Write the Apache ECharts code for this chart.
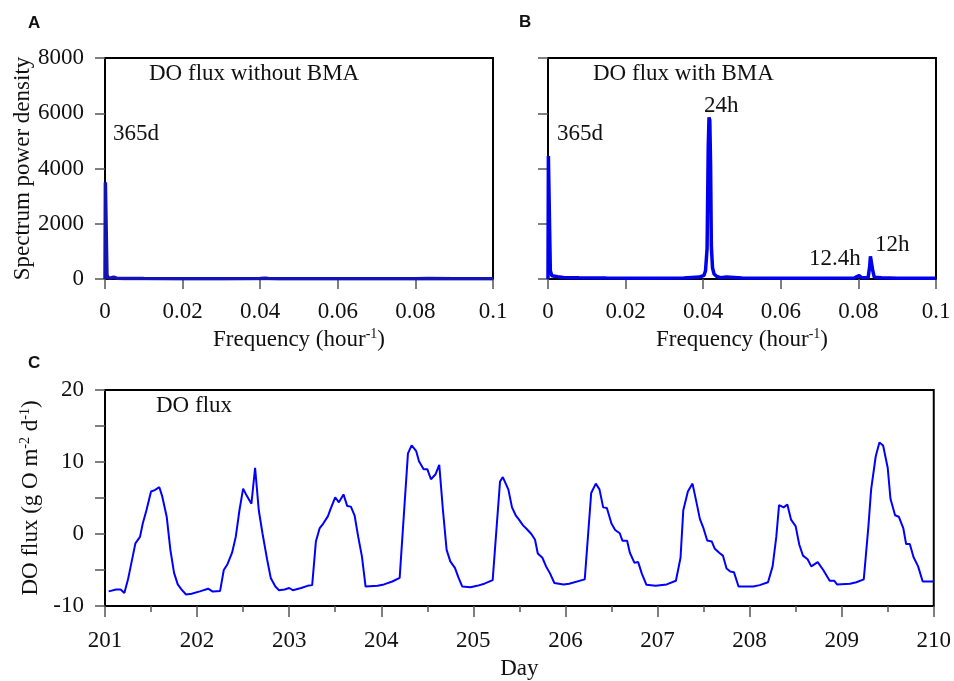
<!DOCTYPE html>
<html>
<head>
<meta charset="utf-8">
<script src="https://cdn.jsdelivr.net/npm/echarts@6/dist/echarts.min.js"></script>
<style>html,body{margin:0;padding:0;background:#fff}#c{width:954px;height:681px}</style>
</head>
<body>
<div id="c"></div>
<script>
// Panel A: spectrum without BMA  [frequency (1/hour), power]
const specA_freq  = [0, 0.0001, 0.0003, 0.0005, 0.0008, 0.0015, 0.0022, 0.003, 0.005, 0.01, 0.02, 0.03, 0.04, 0.0413, 0.0417, 0.0421, 0.045, 0.06, 0.08, 0.0833, 0.09, 0.1];
const specA_power = [0, 3500, 3500, 150, 45, 40, 65, 30, 22, 15, 12, 10, 14, 30, 55, 20, 10, 8, 8, 14, 6, 5];

// Panel B: spectrum with BMA
const specB_freq  = [0, 0.0001, 0.0003, 0.0006, 0.001, 0.0018, 0.0025, 0.004, 0.008, 0.015, 0.025, 0.035, 0.039, 0.0402, 0.0406, 0.041, 0.0413, 0.0415, 0.0417, 0.0419, 0.0421, 0.0424, 0.0428, 0.0435, 0.0445, 0.046, 0.05, 0.06, 0.07, 0.079, 0.0802, 0.0805, 0.0808, 0.0825, 0.0829, 0.0831, 0.0834, 0.0837, 0.0841, 0.086, 0.09, 0.1];
const specB_power = [0, 4450, 4450, 300, 120, 100, 80, 55, 45, 35, 30, 35, 70, 130, 300, 1100, 4800, 5850, 5750, 4200, 1200, 400, 180, 90, 50, 70, 35, 30, 30, 40, 120, 140, 50, 45, 450, 820, 780, 300, 60, 45, 30, 25];

// Panel C: DO flux time series
const dayC  = [201.04,201.12,201.17,201.21,201.25,201.29,201.33,201.38,201.41,201.45,201.50,201.54,201.59,201.62,201.67,201.71,201.75,201.79,201.83,201.88,201.94,202.03,202.12,202.13,202.17,202.25,202.29,202.33,202.38,202.42,202.46,202.50,202.54,202.59,202.63,202.67,202.71,202.76,202.80,202.85,202.89,202.95,203.00,203.04,203.13,203.20,203.25,203.29,203.33,203.37,203.42,203.45,203.50,203.54,203.59,203.63,203.67,203.71,203.75,203.79,203.83,203.96,204.03,204.12,204.20,204.29,204.33,204.38,204.41,204.46,204.50,204.54,204.59,204.63,204.67,204.71,204.75,204.80,204.84,204.88,204.97,205.04,205.12,205.21,205.29,205.32,205.38,205.42,205.46,205.49,205.54,205.58,205.63,205.67,205.70,205.75,205.79,205.83,205.88,205.98,206.04,206.21,206.28,206.33,206.37,206.41,206.45,206.50,206.54,206.59,206.62,206.67,206.70,206.75,206.79,206.83,206.88,206.98,207.10,207.20,207.25,207.28,207.33,207.38,207.42,207.46,207.50,207.54,207.59,207.62,207.67,207.71,207.75,207.79,207.83,207.88,208.04,208.11,208.20,208.25,208.29,208.32,208.37,208.41,208.45,208.50,208.54,208.58,208.63,208.67,208.74,208.80,208.87,208.92,208.95,209.09,209.16,209.24,209.29,209.32,209.37,209.41,209.45,209.50,209.53,209.58,209.62,209.67,209.70,209.74,209.78,209.83,209.88,210.00];
const fluxC = [-7.97,-7.7,-7.7,-8.2,-6.3,-3.8,-1.3,-0.4,1.45,3.3,5.9,6.1,6.5,5.3,2.4,-2.2,-5.4,-7.0,-7.7,-8.4,-8.3,-7.97,-7.6,-7.55,-8.0,-7.9,-5.0,-4.2,-2.6,-0.4,3.3,6.3,5.3,4.2,9.2,3.3,0.1,-3.5,-6.1,-7.3,-7.8,-7.7,-7.5,-7.8,-7.5,-7.2,-7.1,-1.05,0.77,1.45,2.45,3.5,5.1,4.4,5.5,3.9,3.8,2.6,-0.4,-3.1,-7.3,-7.2,-7.0,-6.6,-6.1,11.2,12.3,11.5,10.1,9.0,9.0,7.6,8.3,9.6,3.3,-2.2,-3.8,-4.7,-6.1,-7.3,-7.4,-7.2,-6.9,-6.4,7.3,7.9,6.2,3.7,2.6,2.1,1.2,0.7,0.0,-0.8,-2.7,-3.3,-4.5,-5.4,-6.8,-7.0,-6.9,-6.3,5.7,7.0,6.2,3.7,3.6,1.45,0.55,0.1,-0.95,-0.95,-2.6,-4.0,-3.9,-5.5,-7.05,-7.2,-7.0,-6.5,-3.3,3.3,5.9,7.0,4.6,2.1,0.77,-0.9,-1.05,-2.0,-2.6,-3.0,-4.8,-5.2,-5.3,-7.3,-7.3,-7.1,-6.7,-4.5,-0.4,4.0,3.7,4.1,2.0,1.1,-1.5,-3.0,-3.5,-4.5,-3.9,-5.0,-6.5,-6.5,-7.0,-6.9,-6.7,-6.3,1.0,6.2,10.8,12.7,12.3,9.2,4.9,2.6,2.4,0.77,-1.4,-1.4,-3.2,-4.5,-6.6,-6.6];

// Axis ticks
const specYTicks = [0, 2000, 4000, 6000, 8000];
const specXTicks = [0, 0.02, 0.04, 0.06, 0.08, 0.1];
const fluxYTicks = [-10, 0, 10, 20];
const dayTicks = [201, 202, 203, 204, 205, 206, 207, 208, 209, 210];

const SERIF = 'Liberation Serif';
const FS = 23;
const zip = (a, b) => a.map((v, i) => [v, b[i]]);
const plain = v => String(v);

const tickStyle = {show: true, inside: false, length: 10, lineStyle: {color: '#555', width: 1.5}};
const lbl = {color: '#111', fontFamily: SERIF, fontSize: FS, formatter: plain};

const nameRich = {
  a: {fontFamily: SERIF, fontSize: FS, color: '#111', lineHeight: 26},
  s: {fontFamily: SERIF, fontSize: 14, color: '#111', verticalAlign: 'top', lineHeight: 26, padding: [0, 0, 10, 0]}
};

const gridStyle = {show: true, borderColor: '#000', borderWidth: 2, backgroundColor: 'transparent', containLabel: false};
const noLine = {show: false, onZero: false};
const letterFont = 'bold 17px "Liberation Sans"';

const option = {
  animation: false,
  grid: [
    Object.assign({left: 105, top: 58, width: 388, height: 221}, gridStyle),
    Object.assign({left: 548, top: 58, width: 388, height: 221}, gridStyle),
    Object.assign({left: 105, top: 390, width: 831, height: 221}, gridStyle)
  ],
  xAxis: [
    {gridIndex: 0, type: 'value', min: specXTicks[0], max: specXTicks[specXTicks.length - 1], interval: 0.02,
     axisLine: noLine, axisTick: tickStyle, splitLine: {show: false},
     axisLabel: Object.assign({}, lbl, {margin: 21}),
     name: '{a|Frequency (hour}{s|-1}{a|)}', nameLocation: 'middle', nameGap: 48, nameTextStyle: {rich: nameRich}},
    {gridIndex: 1, type: 'value', min: specXTicks[0], max: specXTicks[specXTicks.length - 1], interval: 0.02,
     axisLine: noLine, axisTick: tickStyle, splitLine: {show: false},
     axisLabel: Object.assign({}, lbl, {margin: 21}),
     name: '{a|Frequency (hour}{s|-1}{a|)}', nameLocation: 'middle', nameGap: 48, nameTextStyle: {rich: nameRich}},
    {gridIndex: 2, type: 'value', min: dayTicks[0], max: dayTicks[dayTicks.length - 1], interval: 1,
     axisLine: noLine, axisTick: Object.assign({}, tickStyle, {length: 11}), splitLine: {show: false},
     minorTick: {show: true, splitNumber: 2, length: 6, lineStyle: {color: '#555', width: 1.5}},
     axisLabel: Object.assign({}, lbl, {margin: 23}),
     name: 'Day', nameLocation: 'middle', nameGap: 51, nameTextStyle: {fontFamily: SERIF, fontSize: FS, color: '#111'}}
  ],
  yAxis: [
    {gridIndex: 0, type: 'value', min: specYTicks[0], max: specYTicks[specYTicks.length - 1], interval: 2000,
     axisLine: noLine, axisTick: tickStyle, splitLine: {show: false},
     axisLabel: Object.assign({}, lbl, {margin: 21}),
     name: 'Spectrum power density', nameLocation: 'middle', nameGap: 69,
     nameTextStyle: {fontFamily: SERIF, fontSize: FS, color: '#111'}},
    {gridIndex: 1, type: 'value', min: specYTicks[0], max: specYTicks[specYTicks.length - 1], interval: 2000,
     axisLine: noLine, axisTick: tickStyle, splitLine: {show: false},
     axisLabel: {show: false}},
    {gridIndex: 2, type: 'value', min: fluxYTicks[0], max: fluxYTicks[fluxYTicks.length - 1], interval: 10,
     axisLine: noLine, axisTick: tickStyle, splitLine: {show: false},
     minorTick: {show: true, splitNumber: 2, length: 10, lineStyle: {color: '#555', width: 1.5}},
     axisLabel: Object.assign({}, lbl, {margin: 21}),
     name: '{a|DO flux (g O m}{s|-2}{a| d}{s|-1}{a|)}', nameLocation: 'middle', nameGap: 54,
     nameTextStyle: {rich: nameRich}}
  ],
  series: [
    {type: 'line', xAxisIndex: 0, yAxisIndex: 0, data: zip(specA_freq, specA_power), showSymbol: false,
     lineStyle: {color: '#1414b4', width: 3.5}, itemStyle: {color: '#1414b4'}},
    {type: 'line', xAxisIndex: 1, yAxisIndex: 1, data: zip(specB_freq, specB_power), showSymbol: false,
     lineStyle: {color: '#0000f0', width: 3.5}, itemStyle: {color: '#0000f0'}},
    {type: 'line', xAxisIndex: 2, yAxisIndex: 2, data: zip(dayC, fluxC), showSymbol: false,
     lineStyle: {color: '#0000ff', width: 2}, itemStyle: {color: '#0000ff'}}
  ],
  graphic: [
    {type: 'text', style: {text: 'A', x: 28, y: 23, verticalAlign: 'middle', font: letterFont, fill: '#111'}},
    {type: 'text', style: {text: 'B', x: 519, y: 22, verticalAlign: 'middle', font: letterFont, fill: '#111'}},
    {type: 'text', style: {text: 'C', x: 28, y: 363, verticalAlign: 'middle', font: letterFont, fill: '#111'}},
    {type: 'text', style: {text: 'DO flux without BMA', x: 149, y: 74, verticalAlign: 'middle', fontFamily: SERIF, fontSize: FS, fill: '#111'}},
    {type: 'text', style: {text: 'DO flux with BMA', x: 593, y: 74, verticalAlign: 'middle', fontFamily: SERIF, fontSize: FS, fill: '#111'}},
    {type: 'text', style: {text: '365d', x: 113, y: 134, verticalAlign: 'middle', fontFamily: SERIF, fontSize: FS, fill: '#111'}},
    {type: 'text', style: {text: '365d', x: 557, y: 134, verticalAlign: 'middle', fontFamily: SERIF, fontSize: FS, fill: '#111'}},
    {type: 'text', style: {text: '24h', x: 704, y: 106, verticalAlign: 'middle', fontFamily: SERIF, fontSize: FS, fill: '#111'}},
    {type: 'text', style: {text: '12.4h', x: 809, y: 259, verticalAlign: 'middle', fontFamily: SERIF, fontSize: FS, fill: '#111'}},
    {type: 'text', style: {text: '12h', x: 875, y: 245, verticalAlign: 'middle', fontFamily: SERIF, fontSize: FS, fill: '#111'}},
    {type: 'text', style: {text: 'DO flux', x: 156, y: 406, verticalAlign: 'middle', fontFamily: SERIF, fontSize: FS, fill: '#111'}}
  ]
};

const chart = echarts.init(document.getElementById('c'), null, {renderer: 'canvas'});
chart.setOption(option);
</script>
</body>
</html>
